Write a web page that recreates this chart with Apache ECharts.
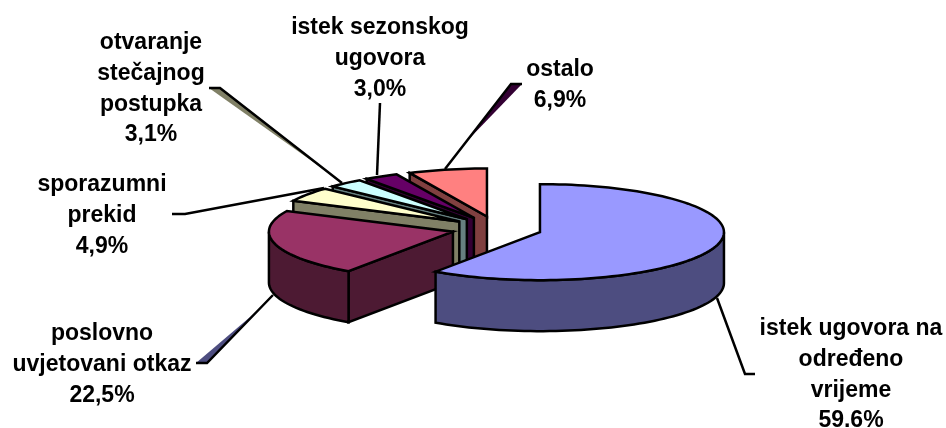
<!DOCTYPE html>
<html>
<head>
<meta charset="utf-8">
<title>Pie</title>
<style>
  html, body { margin: 0; padding: 0; background: #fff; }
  #chart { width: 946px; height: 428px; }
</style>
</head>
<body>
<div id="chart"></div>
<script src="https://cdn.jsdelivr.net/npm/echarts@6/dist/echarts.min.js"></script>
<script>
// podaci
var categories = ['istek ugovora na\nodređeno\nvrijeme', 'poslovno\nuvjetovani otkaz', 'sporazumni\nprekid', 'otvaranje\nstečajnog\npostupka', 'istek sezonskog\nugovora', 'ostalo'];
var values = [59.6, 22.5, 4.9, 3.1, 3.0, 6.9];
var valueLabels = ['59.6%', '22,5%', '4,9%', '3,1%', '3,0%', '6,9%'];

// izgled
var topColors = ['#9999ff', '#993366', '#ffffcc', '#ccffff', '#660066', '#ff8080'];
var sideColors = ['#4d4d80', '#4d1a33', '#808066', '#668080', '#330033', '#804040'];
var pie = { cx: 496.7, cy: 228.5, rx: 184, ry: 48, depth: 51, explodeX: 45.3, explodeY: 12.3 };
var labelPos = [[851, 329], [102, 334], [102, 185], [151, 43], [380, 28], [560, 70]];
var leaderLines = [
  [[717, 298], [745, 374], [755, 374]],
  [[273, 295], [207, 363], [196, 363]],
  [[324, 188], [185, 214], [172, 214]],
  [[342, 183], [220, 88], [209, 88]],
  [[377, 175], [380, 103]],
  [[445, 169], [511, 84], [522, 84]]
];
var leaderSlivers = [
  null,
  [[196, 363], [207, 363], [256, 312]],
  null,
  [[209, 88], [220, 88], [340, 181]],
  null,
  [[522, 84], [511, 84], [466, 142]]
];

var total = values.reduce(function (a, b) { return a + b }, 0);

function rad(deg) { return deg * Math.PI / 180 }

// kut se broji od 12 sati u smjeru kazaljke
function arcPoints(cx, cy, from, to) {
  var pts = [];
  var steps = Math.max(2, Math.ceil(Math.abs(to - from) / 2));
  for (var i = 0; i <= steps; i++) {
    var a = rad(from + (to - from) * i / steps);
    pts.push([cx + pie.rx * Math.sin(a), cy - pie.ry * Math.cos(a)]);
  }
  return pts;
}

function face(points, color, z2) {
  return {
    type: 'polygon',
    z2: z2,
    shape: { points: points },
    style: { fill: color, stroke: '#000', lineWidth: 2.5, lineJoin: 'miter' }
  };
}

function renderSlice(params, api) {
  var idx = params.dataIndex;
  var before = 0;
  for (var i = 0; i < idx; i++) before += values[i];
  var start = before / total * 360;
  var end = start + api.value(0) / total * 360;
  var mid = rad((start + end) / 2);
  var cx = pie.cx + pie.explodeX * Math.sin(mid);
  var cy = pie.cy - pie.explodeY * Math.cos(mid);
  var z = (values.length - idx) * 10;
  var children = [];

  // prednja strana reza
  var sa = arcPoints(cx, cy, start, start)[0];
  if (Math.sin(rad(start)) < -1e-6) {
    children.push(face([[cx, cy], sa, [sa[0], sa[1] + pie.depth], [cx, cy + pie.depth]], sideColors[idx], z));
  }
  var ea = arcPoints(cx, cy, end, end)[0];
  if (Math.sin(rad(end)) > 1e-6) {
    children.push(face([[cx, cy], ea, [ea[0], ea[1] + pie.depth], [cx, cy + pie.depth]], sideColors[idx], z));
  }

  // vanjski zid
  var wallFrom = Math.max(start, 90);
  var wallTo = Math.min(end, 270);
  if (wallTo > wallFrom) {
    var upper = arcPoints(cx, cy, wallFrom, wallTo);
    var lower = arcPoints(cx, cy + pie.depth, wallFrom, wallTo).reverse();
    children.push(face(upper.concat(lower), sideColors[idx], z + 1));
  }

  // gornja ploha
  children.push(face([[cx, cy]].concat(arcPoints(cx, cy, start, end)), topColors[idx], z + 2));

  return { type: 'group', children: children };
}

function renderLabel(params) {
  var idx = params.dataIndex;
  var children = [];
  if (leaderSlivers[idx]) {
    children.push({
      type: 'polygon',
      z2: 200,
      shape: { points: leaderSlivers[idx] },
      style: { fill: sideColors[idx === 3 ? 2 : idx === 1 ? 0 : 4] }
    });
  }
  children.push({
    type: 'polyline',
    z2: 201,
    shape: { points: leaderLines[idx] },
    style: { fill: null, stroke: '#000', lineWidth: 2.5 }
  });
  var lines = (categories[idx] + '\n' + valueLabels[idx]).split('\n');
  lines.forEach(function (line, n) {
    children.push({
      type: 'text',
      z2: 202,
      x: labelPos[idx][0],
      y: labelPos[idx][1] + n * 30.7,
      style: {
        text: line,
        fill: '#000',
        font: 'bold 23px "Liberation Sans", Arial, sans-serif',
        textAlign: 'center',
        textVerticalAlign: 'middle'
      }
    });
  });
  return { type: 'group', children: children };
}

var chart = echarts.init(document.getElementById('chart'));
chart.setOption({
  animation: false,
  backgroundColor: '#fff',
  series: [
    { type: 'custom', coordinateSystem: 'none', silent: true, renderItem: renderSlice, data: values.map(function (v) { return [v] }) },
    { type: 'custom', coordinateSystem: 'none', silent: true, z: 3, renderItem: renderLabel, data: categories }
  ]
});
</script>
</body>
</html>
